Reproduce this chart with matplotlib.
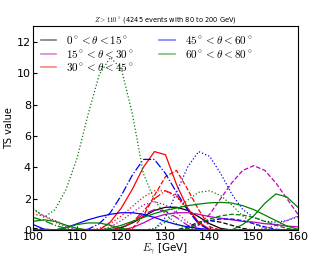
import matplotlib
matplotlib.use("Agg")
import matplotlib.pyplot as plt
import numpy as np

plt.rcParams['mathtext.fontset'] = 'cm'

# energy grid (GeV)
energy = np.arange(100, 160.1, 2.5)

# TS curves, one list per curve
k_solid  = [0, 0, 0, 0, 0, 0, 0, 0, 0.15, 0.45, 0.85, 1.25, 1.45, 1.45, 1.25, 0.85, 0.4, 0.1, 0, 0, 0, 0, 0, 0, 0]
k_dash   = [0.1, 0.05, 0, 0, 0, 0, 0, 0, 0, 0, 0, 0, 0, 0, 0.2, 0.5, 0.6, 0.5, 0.3, 0.1, 0, 0, 0, 0, 0]

m_solid  = [0, 0, 0, 0, 0, 0, 0, 0, 0, 0.15, 0.45, 0.8, 1.0, 1.1, 1.1, 1.0, 0.85, 0.75, 0.65, 0.55, 0.5, 0.4, 0.35, 0.25, 0.2]
m_dash   = [0, 0, 0, 0, 0, 0, 0, 0, 0, 0, 0, 0, 0, 0, 0, 0.3, 1.0, 2.0, 3.0, 3.8, 4.1, 3.8, 3.0, 2.0, 1.0]
m_dot    = [1.3, 0.9, 0.5, 0.2, 0.05, 0, 0, 0.2, 0.6, 1.1, 1.6, 1.8, 1.6, 1.1, 0.5, 0.1, 0, 0, 0, 0, 0, 0.1, 0.3, 0.6, 0.9]
m_dashdot = [0, 0, 0, 0, 0, 0, 0, 0, 0.1, 0.5, 1.0, 1.3, 1.2, 0.8, 0.3, 0, 0, 0, 0, 0, 0, 0, 0, 0, 0]

r_solid  = [0, 0, 0, 0, 0, 0, 0, 0.5, 1.4, 2.6, 4.0, 5.0, 4.8, 2.9, 1.4, 0.5, 0.05, 0, 0, 0, 0, 0, 0, 0, 0]
r_dash   = [0, 0, 0, 0, 0, 0, 0, 0, 0, 0.1, 0.9, 2.2, 3.4, 3.8, 2.6, 1.3, 0.2, 0, 0, 0, 0, 0, 0, 0, 0]
r_dashdot = [0, 0, 0, 0, 0, 0, 0, 0, 0.1, 0.5, 1.2, 2.0, 2.5, 2.2, 1.3, 0.4, 0, 0, 0, 0, 0, 0, 0, 0, 0]
r_dot    = [1.0, 0.9, 0.6, 0.3, 0.1, 0, 0.1, 0.4, 0.9, 1.5, 2.1, 2.5, 2.5, 2.1, 1.3, 0.5, 0, 0, 0, 0, 0, 0, 0, 0, 0]

b_solid  = [0.35, 0.05, 0, 0.15, 0.4, 0.65, 0.85, 1.0, 1.1, 1.1, 1.0, 0.8, 0.55, 0.35, 0.2, 0.1, 0.02, 0, 0, 0, 0, 0, 0, 0, 0]
b_dot    = [0, 0, 0, 0, 0, 0, 0, 0, 0, 0, 0, 0.05, 0.8, 2.4, 4.0, 5.0, 4.7, 3.6, 2.3, 1.3, 0.8, 0.55, 0.5, 0.6, 0.85]
b_dashdot = [0, 0, 0, 0, 0, 0.05, 0.4, 1.1, 2.2, 3.5, 4.5, 4.5, 3.6, 2.4, 1.3, 0.4, 0, 0, 0, 0, 0, 0, 0, 0, 0]
b_dash   = [0, 0, 0, 0, 0, 0, 0, 0, 0, 0, 0, 0, 0, 0, 0.1, 0.4, 0.6, 0.7, 0.7, 0.6, 0.4, 0.2, 0.05, 0, 0]

g_solid1 = [0, 0, 0, 0, 0, 0, 0, 0.1, 0.3, 0.55, 0.8, 1.05, 1.25, 1.4, 1.55, 1.65, 1.73, 1.76, 1.72, 1.55, 1.3, 0.95, 0.6, 0.25, 0.05]
g_solid2 = [0, 0, 0, 0, 0, 0, 0, 0, 0, 0, 0, 0, 0, 0, 0, 0, 0, 0, 0, 0.35, 0.9, 1.7, 2.3, 2.1, 1.45]
g_solid3 = [0.55, 0.65, 0.55, 0.3, 0.1, 0, 0, 0, 0, 0, 0, 0, 0, 0, 0, 0, 0, 0, 0, 0, 0, 0, 0, 0, 0]
g_solid4 = [0, 0, 0, 0.15, 0.35, 0.45, 0.45, 0.3, 0.1, 0, 0, 0, 0, 0, 0, 0, 0, 0, 0, 0, 0, 0, 0, 0, 0]
g_dot1   = [1.4, 0.8, 1.3, 2.6, 4.6, 7.4, 9.9, 11.0, 10.3, 7.4, 3.6, 1.9, 1.0, 0.4, 0.1, 0, 0, 0, 0, 0, 0, 0, 0, 0, 0]
g_dot2   = [0, 0, 0, 0, 0, 0, 0, 0, 0, 0, 0, 0.1, 0.5, 1.2, 1.9, 2.4, 2.5, 2.2, 1.6, 0.9, 0.4, 0.1, 0, 0, 0]
g_dash   = [0, 0, 0, 0, 0, 0, 0, 0, 0, 0, 0, 0, 0, 0, 0.1, 0.4, 0.7, 0.9, 1.0, 0.95, 0.8, 0.55, 0.3, 0.1, 0]
g_dashdot = [0.8, 0.6, 0.3, 0.1, 0, 0, 0, 0, 0, 0, 0, 0, 0, 0, 0, 0, 0, 0, 0, 0, 0, 0, 0, 0, 0]

curves = [
    (k_solid, 'k', '-'), (k_dash, 'k', '--'),
    (m_solid, 'm', '-'), (m_dash, 'm', '--'), (m_dot, 'm', ':'), (m_dashdot, 'm', '-.'),
    (r_solid, 'r', '-'), (r_dash, 'r', '--'), (r_dashdot, 'r', '-.'), (r_dot, 'r', ':'),
    (b_solid, 'b', '-'), (b_dot, 'b', ':'), (b_dashdot, 'b', '-.'), (b_dash, 'b', '--'),
    (g_solid1, 'g', '-'), (g_solid2, 'g', '-'), (g_solid3, 'g', '-'), (g_solid4, 'g', '-'),
    (g_dot1, 'g', ':'), (g_dot2, 'g', ':'), (g_dash, 'g', '--'), (g_dashdot, 'g', '-.'),
]

labels = [r'$0^\circ<\theta<15^\circ$', r'$15^\circ<\theta<30^\circ$', r'$30^\circ<\theta<45^\circ$',
          r'$45^\circ<\theta<60^\circ$', r'$60^\circ<\theta<80^\circ$']
label_colors = ['k', 'm', 'r', 'b', 'g']

fig = plt.figure(figsize=(3.32, 2.56), dpi=100)
ax = fig.add_axes([0.0994, 0.1016, 0.798, 0.7964])

for ts, c, ls in curves:
    ax.plot(energy, ts, color=c, linestyle=ls, lw=0.9)

handles = [ax.plot([], [], color=c, lw=1.2, alpha=0.5)[0] for c in label_colors]
ax.legend(handles, labels, ncol=2, loc='upper left', frameon=False, fontsize=8,
          handlelength=1.4, handletextpad=0.9, columnspacing=2.3,
          labelspacing=0.15, borderaxespad=0.3)

ax.set_xlim(100, 160)
ax.set_ylim(0, 13)
ax.set_xticks(np.arange(100, 161, 10))
ax.set_yticks(np.arange(0, 13, 2))
ax.tick_params(labelsize=8, direction='in', length=3, pad=1.5)
ax.set_xlabel(r'$E_\gamma$ [GeV]', fontsize=7.5, labelpad=0)
ax.set_ylabel('TS value', fontsize=7, labelpad=2)
ax.set_title(r'$Z>110^\circ$ (4245 events with 80 to 200 GeV)', fontsize=4.8, pad=3)

fig.savefig('out.png', dpi=100)
